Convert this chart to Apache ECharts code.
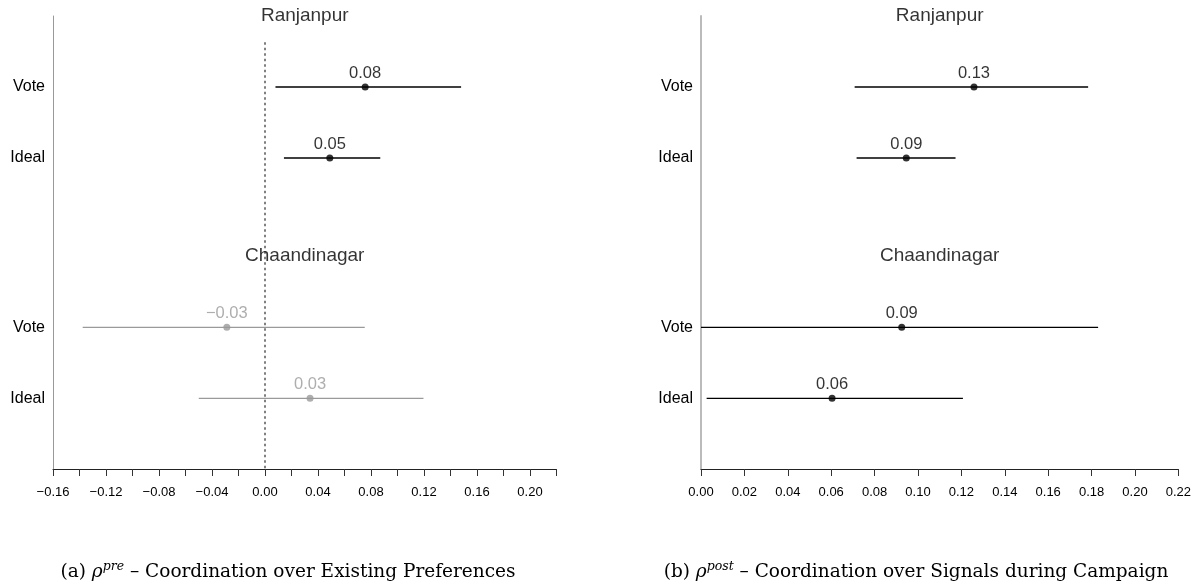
<!DOCTYPE html>
<html>
<head>
<meta charset="utf-8">
<script src="https://cdn.jsdelivr.net/npm/echarts@6/dist/echarts.min.js"></script>
<style>
  html, body { margin: 0; padding: 0; background: #fff; }
  #chart { width: 1201px; height: 588px; }
</style>
</head>
<body>
<div id="chart"></div>
<script>
// Row order in every array: Ranjanpur Vote, Ranjanpur Ideal, Chaandinagar Vote, Chaandinagar Ideal
const groups = ['Ranjanpur', 'Chaandinagar'];
const rowLabels = ['Vote', 'Ideal', 'Vote', 'Ideal'];

// rho_pre: coordination over existing preferences (estimate and interval)
const preEst = [0.0756, 0.0489, -0.0288, 0.0340];
const preLo  = [0.0079, 0.0143, -0.1376, -0.0500];
const preHi  = [0.1480, 0.0870, 0.0753, 0.1196];

// rho_post: coordination over signals during the campaign
const postEst = [0.1258, 0.0946, 0.0925, 0.0604];
const postLo  = [0.0708, 0.0717, 0.0000, 0.0026];
const postHi  = [0.1784, 0.1173, 0.1830, 0.1207];

// axis ranges
const preRange = [-0.16, 0.22];
const postRange = [0, 0.22];
const tickStep = 0.02;

// vertical layout of rows and group headings (in row units, top = 0)
const rowPos = [1, 2, 4.385, 5.385];
const headPos = [0, 3.37];
const zeroLineTop = 0.37;
const yMax = 6.38;

const GRAY = '#9a9a9a';
const FONT = '"Liberation Sans", Arial, Helvetica, sans-serif';
const SERIF = '"DejaVu Serif", serif';

function fmt(v) {
  const s = v.toFixed(2);
  return s.charAt(0) === '-' ? '\u2212' + s.slice(1) : s;
}

function crossesZero(lo, hi) { return lo < 0 && hi > 0; }

function panelSeries(idx, est, lo, hi, range) {
  const out = [];
  // confidence intervals
  out.push({
    type: 'custom',
    xAxisIndex: idx, yAxisIndex: idx,
    clip: false,
    silent: true,
    encode: { x: [0, 1], y: 2 },
    data: est.map((_, i) => [lo[i], hi[i], rowPos[i]]),
    renderItem: function (params, api) {
      const y = api.value(2);
      const a = api.coord([api.value(0), y]);
      const b = api.coord([api.value(1), y]);
      const grey = crossesZero(api.value(0), api.value(1));
      return {
        type: 'line',
        shape: { x1: a[0], y1: a[1], x2: b[0], y2: b[1] },
        style: { stroke: grey ? GRAY : '#000', lineWidth: grey ? 1.1 : 1.4 }
      };
    }
  });
  // point estimates with value labels
  out.push({
    type: 'scatter',
    xAxisIndex: idx, yAxisIndex: idx,
    clip: false,
    silent: true,
    symbol: 'circle',
    symbolSize: 7,
    data: est.map((v, i) => {
      const c = crossesZero(lo[i], hi[i]) ? GRAY : '#000';
      return {
        value: [v, rowPos[i]],
        itemStyle: { color: c },
        label: { color: c }
      };
    }),
    label: {
      show: true,
      position: 'top',
      distance: 2,
      fontFamily: FONT,
      fontSize: 16.5,
      formatter: p => fmt(p.value[0])
    }
  });
  // group headings, centred over the panel
  const mid = (range[0] + range[1]) / 2;
  out.push({
    type: 'scatter',
    xAxisIndex: idx, yAxisIndex: idx,
    clip: false,
    silent: true,
    symbolSize: 0,
    data: groups.map((g, i) => ({ name: g, value: [mid, headPos[i]] })),
    label: {
      show: true,
      position: 'inside',
      fontFamily: FONT,
      fontSize: 19,
      color: '#000',
      formatter: '{b}'
    }
  });
  return out;
}

function yAxisFor(idx, lineColor, lineWidth) {
  return {
    type: 'value',
    gridIndex: idx,
    inverse: true,
    min: 0,
    max: yMax,
    splitLine: { show: false },
    axisTick: { show: false },
    axisLine: { show: true, onZero: false, lineStyle: { color: lineColor, width: lineWidth } },
    axisLabel: {
      show: true,
      customValues: rowPos,
      margin: 8,
      fontFamily: FONT,
      fontSize: 16,
      color: '#000',
      formatter: function (v) {
        const i = rowPos.findIndex(p => Math.abs(p - v) < 1e-6);
        return i >= 0 ? rowLabels[i] : '';
      }
    }
  };
}

function xAxisFor(idx, range, everyOther) {
  return {
    type: 'value',
    gridIndex: idx,
    min: range[0],
    max: range[1],
    interval: tickStep,
    splitLine: { show: false },
    axisLine: { show: true, onZero: false, lineStyle: { color: '#222', width: 1 } },
    axisTick: { show: true, length: 7, lineStyle: { color: '#333', width: 1 } },
    axisLabel: {
      show: true,
      margin: 17,
      hideOverlap: false,
      fontFamily: FONT,
      fontSize: 13,
      color: '#000',
      formatter: function (v) {
        if (everyOther && Math.abs(Math.round(v * 100)) % 4 !== 0) return '';
        return fmt(v);
      }
    }
  };
}

const captionRich = {
  base: { fontFamily: SERIF, fontSize: 18.5, color: '#000', lineHeight: 21, verticalAlign: 'bottom' },
  rho: { fontFamily: SERIF, fontSize: 18.5, fontStyle: 'italic', color: '#000', lineHeight: 21, verticalAlign: 'bottom' },
  sup: { fontFamily: SERIF, fontSize: 12.5, fontStyle: 'italic', color: '#000', lineHeight: 13, verticalAlign: 'top' }
};

const chart = echarts.init(document.getElementById('chart'), null, { renderer: 'canvas' });

const series = []
  .concat(panelSeries(0, preEst, preLo, preHi, preRange))
  .concat(panelSeries(1, postEst, postLo, postHi, postRange));

// dotted reference line at zero in the first panel
series.push({
  type: 'line',
  xAxisIndex: 0, yAxisIndex: 0,
  silent: true,
  symbol: 'none',
  data: [[0, zeroLineTop], [0, yMax]],
  lineStyle: { color: '#808080', width: 2, type: [2.5, 3] },
  z: 1
});

chart.setOption({
  animation: false,
  backgroundColor: '#fff',
  grid: [
    { left: 53, top: 16, width: 503.5, height: 453 },
    { left: 701, top: 16, width: 477.4, height: 453 }
  ],
  xAxis: [xAxisFor(0, preRange, true), xAxisFor(1, postRange, false)],
  yAxis: [yAxisFor(0, '#999', 1), yAxisFor(1, '#bbb', 2)],
  series: series,
  graphic: [
    {
      type: 'text', x: 288, y: 571,
      style: {
        text: '{base|(a) }{rho|\u03c1}{sup|pre}{base| \u2013 Coordination over Existing Preferences}',
        rich: captionRich, align: 'center', verticalAlign: 'middle'
      }
    },
    {
      type: 'text', x: 916, y: 571,
      style: {
        text: '{base|(b) }{rho|\u03c1}{sup|post}{base| \u2013 Coordination over Signals during Campaign}',
        rich: captionRich, align: 'center', verticalAlign: 'middle'
      }
    }
  ]
});
</script>
</body>
</html>
